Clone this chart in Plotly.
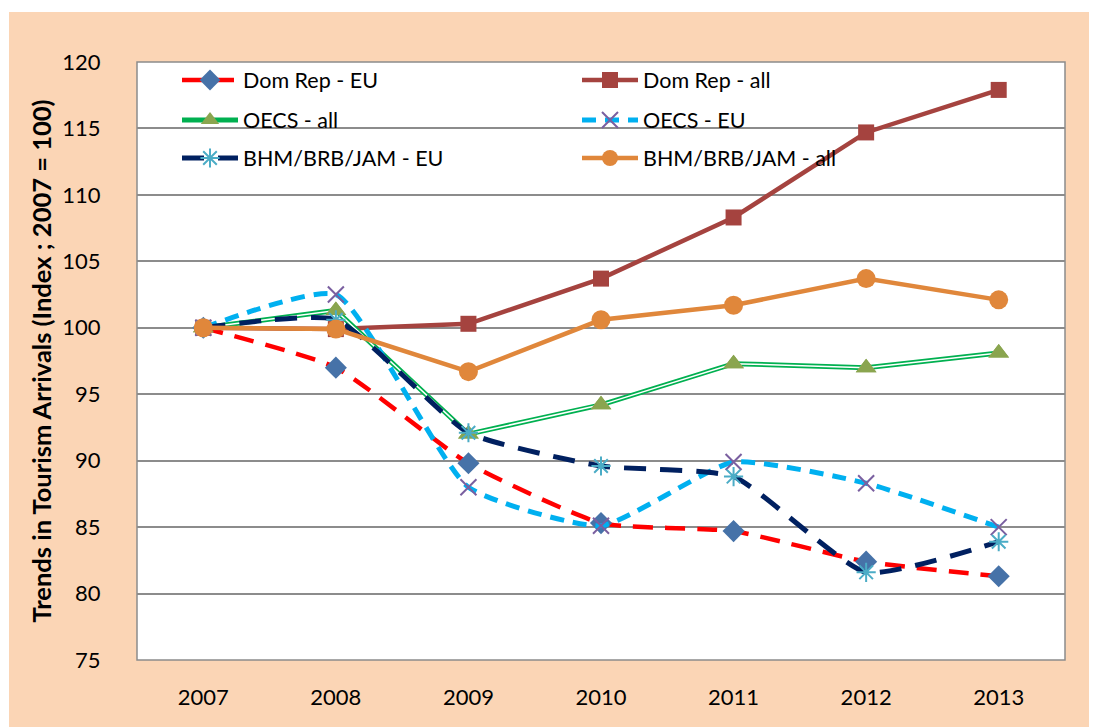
import plotly.graph_objects as go

years = ["2007", "2008", "2009", "2010", "2011", "2012", "2013"]

dom_rep_eu = [100, 97.0, 89.8, 85.3, 84.7, 82.4, 81.3]
dom_rep_all = [100, 99.9, 100.3, 103.7, 108.3, 114.7, 117.9]
oecs_all = [100, 101.3, 92.0, 94.2, 97.3, 97.0, 98.1]
oecs_eu = [100, 102.5, 88.0, 85.1, 89.9, 88.3, 85.0]
bhm_eu = [100, 100.6, 92.1, 89.6, 88.8, 81.6, 83.9]
bhm_all = [100, 99.9, 96.7, 100.6, 101.7, 103.7, 102.1]

y_ticks = [75, 80, 85, 90, 95, 100, 105, 110, 115, 120]

FONT = "Lato, Carlito, Calibri, sans-serif"
PEACH = "#FBD5B5"
SM = 0.5

fig = go.Figure()

# Dom Rep - EU
fig.add_trace(go.Scatter(
    x=years, y=dom_rep_eu, name="Dom Rep - EU", mode="lines+markers",
    line=dict(color="#FF0000", width=4.5, dash="20px,12px", shape="spline", smoothing=SM),
    marker=dict(symbol="diamond", size=17, color="#4672A8"),
    legend="legend"))
# Dom Rep - all
fig.add_trace(go.Scatter(
    x=years, y=dom_rep_all, name="Dom Rep - all", mode="lines+markers",
    line=dict(color="#A5433F", width=4.5),
    marker=dict(symbol="square", size=16, color="#A5433F"),
    legend="legend2"))
# OECS - all (double line: green outer, white inner, markers on top)
fig.add_trace(go.Scatter(
    x=years, y=oecs_all, name="OECS - all", mode="lines+markers",
    line=dict(color="#00B050", width=5), legendgroup="oecs_all",
    marker=dict(symbol="triangle-up", size=18, color="#8AA54F"),
    legend="legend3"))
fig.add_trace(go.Scatter(
    x=years, y=oecs_all, name="OECS - all", mode="lines",
    line=dict(color="#FFFFFF", width=1.5), legendgroup="oecs_all",
    showlegend=False, hoverinfo="skip"))
fig.add_trace(go.Scatter(
    x=years, y=oecs_all, name="OECS - all", mode="markers", legendgroup="oecs_all",
    marker=dict(symbol="triangle-up", size=18, color="#8AA54F"),
    showlegend=False))
# OECS - EU
fig.add_trace(go.Scatter(
    x=years, y=oecs_eu, name="OECS - EU", mode="lines+markers",
    line=dict(color="#00B0F0", width=5, dash="14px,9px", shape="spline", smoothing=SM),
    marker=dict(symbol="x-thin-open", size=16, color="#7A5FA0", line=dict(width=2, color="#7A5FA0")),
    legend="legend4"))
# BHM/BRB/JAM - EU
fig.add_trace(go.Scatter(
    x=years, y=bhm_eu, name="BHM/BRB/JAM - EU", mode="lines+markers",
    line=dict(color="#002060", width=5, dash="22px,14px", shape="spline", smoothing=SM),
    marker=dict(symbol="asterisk-open", size=16, color="#4BACC6", line=dict(width=2, color="#4BACC6")),
    legend="legend5"))
# BHM/BRB/JAM - all
fig.add_trace(go.Scatter(
    x=years, y=bhm_all, name="BHM/BRB/JAM - all", mode="lines+markers",
    line=dict(color="#E0873B", width=4.5),
    marker=dict(symbol="circle", size=19, color="#E0873B"),
    legend="legend6"))

OFF = 8  # page body margin
W, H = 1097 - OFF, 727 - OFF
L, R, T, B = 137 - OFF, 32, 62 - OFF, 67
pw, ph = W - L - R, H - T - B

def px_x(p):  # p in screen pixels
    return (p - OFF - L) / pw

def px_y(p):
    return (H - B - (p - OFF)) / ph

IW = 56
leg_common = dict(
    orientation="v", xanchor="left", yanchor="middle",
    bgcolor="rgba(0,0,0,0)", font=dict(family=FONT, size=21.5, color="#000000"),
    itemwidth=IW,
)
col1 = px_x(243 - IW - 10)
col2 = px_x(643 - IW - 10)
rows = [px_y(80), px_y(120), px_y(158)]

fig.update_layout(
    width=W, height=H,
    margin=dict(l=L, r=R, t=T, b=B),
    paper_bgcolor="#FFFFFF",
    plot_bgcolor="rgba(0,0,0,0)",
    font=dict(family=FONT, size=18, color="#000000"),
    legend=dict(leg_common, x=col1, y=rows[0]),
    legend2=dict(leg_common, x=col2, y=rows[0]),
    legend3=dict(leg_common, x=col1, y=rows[1]),
    legend4=dict(leg_common, x=col2, y=rows[1]),
    legend5=dict(leg_common, x=col1, y=rows[2]),
    legend6=dict(leg_common, x=col2, y=rows[2]),
    shapes=[
        dict(type="rect", xref="paper", yref="paper", layer="below",
             x0=px_x(9), x1=px_x(1105), y0=px_y(735), y1=px_y(12),
             fillcolor=PEACH, line=dict(width=0)),
        dict(type="rect", xref="paper", yref="paper", layer="below",
             x0=0, x1=1, y0=0, y1=1,
             fillcolor="#FFFFFF", line=dict(width=1.5, color="#8C8C8C")),
    ],
    xaxis=dict(
        type="category", range=[-0.5, 6.5], showgrid=False,
        ticks="outside", ticklen=18, tickcolor="rgba(0,0,0,0)",
        tickfont=dict(family=FONT, size=22, color="#000000"),
        showline=False, zeroline=False,
    ),
    yaxis=dict(
        range=[75, 120], tickvals=y_ticks, showgrid=True,
        gridcolor="#8C8C8C", gridwidth=2,
        ticks="outside", ticklen=31, tickcolor="rgba(0,0,0,0)",
        tickfont=dict(family=FONT, size=22, color="#000000"),
        showline=False, zeroline=False,
        title=dict(text="<b>Trends in Tourism Arrivals (Index ; 2007 = 100)</b>",
                   font=dict(family=FONT, size=25.5, color="#000000"), standoff=3),
    ),
)

fig.write_html("out.html")
